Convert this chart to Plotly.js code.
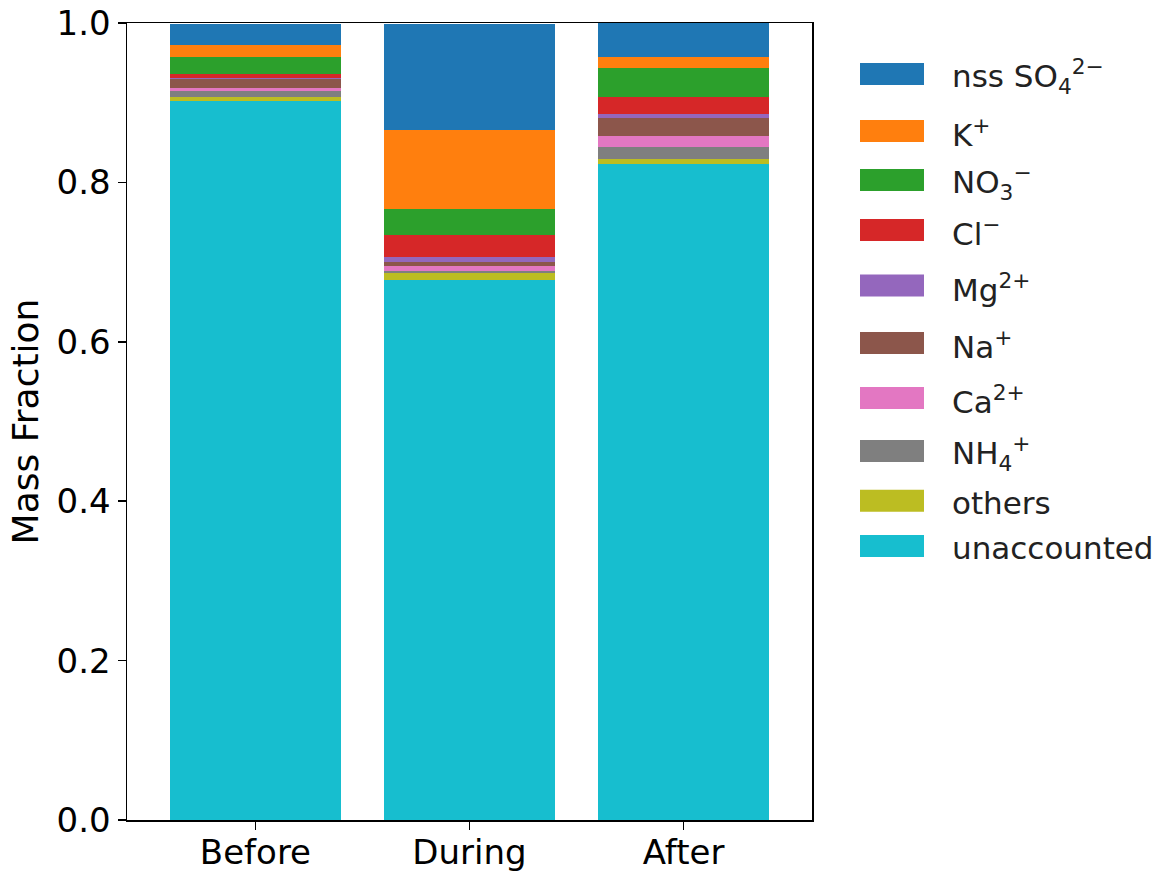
<!DOCTYPE html>
<html>
<head>
<meta charset="utf-8">
<script src="https://cdn.plot.ly/plotly-3.0.1.min.js"></script>
<style>html,body{margin:0;padding:0;background:#fff}#chart{width:1160px;height:875px}</style>
</head>
<body>
<div id="chart"></div>
<script>
const periods = ["Before", "During", "After"];
// species listed bottom-to-top in the stack
const species = ["unaccounted", "others", "NH<sub>4</sub><sup>+</sup>", "Ca<sup>2+</sup>", "Na<sup>+</sup>", "Mg<sup>2+</sup>", "Cl<sup>−</sup>", "NO<sub>3</sub><sup>−</sup>", "K<sup>+</sup>", "nss SO<sub>4</sub><sup>2−</sup>"];
const unaccounted = [0.902, 0.6775, 0.8227];
const others      = [0.005, 0.0092, 0.0071];
const nh4         = [0.0071, 0.0025, 0.0142];
const ca          = [0.0046, 0.0059, 0.0146];
const na          = [0.0105, 0.0046, 0.0218];
const mg          = [0.002, 0.007, 0.005];
const cl          = [0.0046, 0.027, 0.0217];
const no3         = [0.0217, 0.0335, 0.036];
const k           = [0.0147, 0.098, 0.0146];
const nssSO4      = [0.027, 0.134, 0.0419];
const seriesValues = [unaccounted, others, nh4, ca, na, mg, cl, no3, k, nssSO4];
const colors = ["#17becf", "#bcbd22", "#7f7f7f", "#e377c2", "#8c564b", "#9467bd", "#d62728", "#2ca02c", "#ff7f0e", "#1f77b4"];

const traces = species.map((name, i) => ({
  type: "bar",
  x: periods,
  y: seriesValues[i],
  name: name,
  marker: {color: colors[i], line: {width: 0}},
  hoverinfo: "name+y"
}));

// custom legend (matplotlib-style wide patches), top entry first
const W = 1160, H = 875, ML = 127, MR = 348, MT = 23, MB = 55;
const PW = W - ML - MR, PH = H - MT - MB;
const px2x = p => (p - ML) / PW;
const py2y = p => (H - MB - p) / PH;
const legendCenters = [74, 131, 180, 230, 285.5, 343, 398, 451, 500.7, 546];
const shapes = [], annotations = [];
for (let j = 0; j < species.length; j++) {
  const i = species.length - 1 - j;
  const c = legendCenters[j];
  shapes.push({type: "rect", xref: "paper", yref: "paper",
    x0: px2x(860), x1: px2x(924), y0: py2y(c + 11), y1: py2y(c - 11),
    fillcolor: colors[i], line: {width: 0}});
  annotations.push({xref: "paper", yref: "paper", x: px2x(950), y: py2y(c + 2),
    xanchor: "left", yanchor: "middle", showarrow: false, text: species[i],
    font: {family: "DejaVu Sans, sans-serif", size: 31, color: "#222"}});
}

const tickFont = {family: "DejaVu Sans, sans-serif", size: 34, color: "#000"};
const layout = {
  width: W, height: H,
  margin: {l: ML, r: MR, t: MT, b: MB},
  barmode: "stack",
  bargap: 0.2,
  paper_bgcolor: "#fff", plot_bgcolor: "#fff",
  font: {family: "DejaVu Sans, sans-serif", size: 20, color: "#000"},
  showlegend: false,
  shapes: shapes,
  annotations: annotations,
  xaxis: {
    range: [-0.6, 2.6],
    showline: true, linecolor: "#000", linewidth: 1.5, mirror: true,
    ticks: "outside", ticklen: 8, tickwidth: 1.5, tickcolor: "#000",
    ticklabelstandoff: -6,
    showgrid: false, zeroline: false,
    tickfont: tickFont
  },
  yaxis: {
    range: [0, 1],
    tickvals: [0, 0.2, 0.4, 0.6, 0.8, 1.0],
    ticktext: ["0.0", "0.2", "0.4", "0.6", "0.8", "1.0"],
    showline: true, linecolor: "#000", linewidth: 1.5, mirror: true,
    ticks: "outside", ticklen: 8, tickwidth: 1.5, tickcolor: "#000",
    showgrid: false, zeroline: false,
    tickfont: tickFont,
    title: {text: "Mass Fraction", font: {family: "DejaVu Sans, sans-serif", size: 36, color: "#000"}, standoff: 7}
  }
};
Plotly.newPlot("chart", traces, layout, {displayModeBar: false, staticPlot: true});
</script>
</body>
</html>
